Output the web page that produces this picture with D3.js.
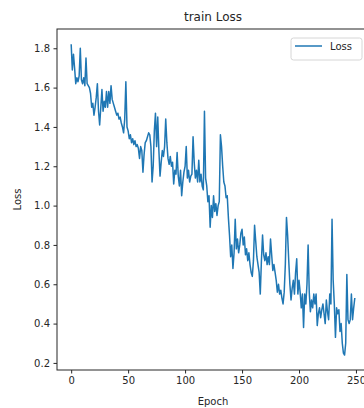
<!DOCTYPE html>
<html>
<head>
<meta charset="utf-8">
<script src="https://cdn.jsdelivr.net/npm/d3@7"></script>
<style>
  body { margin: 0; background: #fff; }
  text { font-family: "DejaVu Sans", sans-serif; fill: #262626; }
  .axis path, .axis line { stroke: #262626; }
</style>
</head>
<body>
<div id="vis"></div>
<script>
// loss per epoch
var lossValues = [
  1.82, 1.69, 1.77, 1.70, 1.62, 1.65, 1.63, 1.66, 1.80, 1.64,
  1.62, 1.65, 1.61, 1.75, 1.62, 1.61, 1.60, 1.57, 1.50, 1.52,
  1.46, 1.50, 1.55, 1.62, 1.48, 1.41, 1.50, 1.59, 1.48, 1.53,
  1.50, 1.58, 1.50, 1.58, 1.52, 1.61, 1.54, 1.52, 1.50, 1.48,
  1.46, 1.47, 1.44, 1.45, 1.42, 1.40, 1.37, 1.44, 1.63, 1.40,
  1.38, 1.34, 1.36, 1.32, 1.34, 1.31, 1.33, 1.30, 1.31, 1.29,
  1.24, 1.30, 1.28, 1.17, 1.26, 1.32, 1.33, 1.35, 1.37, 1.36,
  1.30, 1.12, 1.20, 1.38, 1.47, 1.30, 1.45, 1.28, 1.15, 1.22,
  1.28, 1.25, 1.30, 1.44, 1.32, 1.24, 1.21, 1.25, 1.20, 1.22,
  1.11, 1.18, 1.16, 1.27, 1.15, 1.10, 1.18, 1.05, 1.12, 1.17,
  1.20, 1.30, 1.14, 1.18, 1.12, 1.15, 1.16, 1.35, 1.22, 1.14,
  1.18, 1.12, 1.23, 1.12, 1.16, 1.10, 1.08, 1.48, 1.14, 1.10,
  1.02, 1.05, 0.89, 1.00, 0.94, 1.05, 0.97, 1.01, 0.95, 1.00,
  1.02, 1.36, 1.30, 1.20, 1.12, 1.10, 1.04, 1.05, 0.94, 0.85,
  0.74, 0.80, 0.68, 0.76, 0.93, 0.78, 0.83, 0.76, 0.80, 0.86,
  0.88, 0.80, 0.84, 0.75, 0.78, 0.72, 0.76, 0.70, 0.66, 0.64,
  0.72, 0.90, 0.82, 0.74, 0.70, 0.66, 0.55, 0.72, 0.85, 0.75,
  0.72, 0.76, 0.70, 0.74, 0.70, 0.83, 0.75, 0.67, 0.70, 0.66,
  0.62, 0.56, 0.60, 0.55, 0.57, 0.53, 0.50, 0.56, 0.70, 0.94,
  0.85, 0.72, 0.60, 0.52, 0.58, 0.62, 0.55, 0.66, 0.73, 0.55,
  0.62, 0.56, 0.48, 0.55, 0.38, 0.55, 0.50, 0.60, 0.80, 0.56,
  0.46, 0.52, 0.48, 0.55, 0.50, 0.55, 0.39, 0.45, 0.48, 0.43,
  0.47, 0.50, 0.45, 0.40, 0.52, 0.46, 0.42, 0.55, 0.50, 0.93,
  0.62, 0.50, 0.33, 0.48, 0.45, 0.47, 0.36, 0.40, 0.30, 0.25,
  0.24, 0.30, 0.65, 0.42, 0.40, 0.42, 0.55, 0.42, 0.48, 0.53
];
var epochs = lossValues.map(function(d, i) { return i; });

var xTicks = [0, 50, 100, 150, 200, 250];
var yTicks = [0.2, 0.4, 0.6, 0.8, 1.0, 1.2, 1.4, 1.6, 1.8];

var width = 364;
var height = 408;
// axes box; the right edge runs past the window like the reference
var margin = { top: 29, left: 57, bottom: 38, right: -5 };

var svg = d3.select('#vis').append('svg')
  .attr('width', width)
  .attr('height', height);

var x0 = d3.min(epochs), x1 = d3.max(epochs);
var pad = (x1 - x0) * 0.05;
var xScale = d3.scaleLinear()
  .domain([x0 - pad, x1 + pad])
  .range([margin.left, width - margin.right]);

var yScale = d3.scaleLinear()
  .domain([0.164, 1.898])
  .range([height - margin.bottom, margin.top]);

// axes
var xAxis = d3.axisBottom(xScale)
  .tickValues(xTicks)
  .tickSizeInner(3.5).tickSizeOuter(0).tickPadding(3.5)
  .tickFormat(d3.format('d'));

var yAxis = d3.axisLeft(yScale)
  .tickValues(yTicks)
  .tickSizeInner(3.5).tickSizeOuter(0).tickPadding(3.5)
  .tickFormat(d3.format('.1f'));

svg.append('g')
  .attr('class', 'x axis')
  .attr('transform', 'translate(0,' + (height - margin.bottom) + ')')
  .call(xAxis)
  .call(function(g) { g.select('.domain').remove(); })
  .selectAll('text').style('font-size', '10px').attr('fill', '#262626');

svg.append('g')
  .attr('class', 'y axis')
  .attr('transform', 'translate(' + margin.left + ',0)')
  .call(yAxis)
  .call(function(g) { g.select('.domain').remove(); })
  .selectAll('text').style('font-size', '10px').attr('fill', '#262626');

// spines
svg.append('rect')
  .attr('x', margin.left)
  .attr('y', margin.top)
  .attr('width', width - margin.right - margin.left)
  .attr('height', height - margin.bottom - margin.top)
  .attr('fill', 'none')
  .attr('stroke', '#262626')
  .attr('stroke-width', 1);

// the loss line
var line = d3.line()
  .x(function(d, i) { return xScale(epochs[i]); })
  .y(function(d) { return yScale(d); });

svg.append('path')
  .datum(lossValues)
  .attr('fill', 'none')
  .attr('stroke', '#1f77b4')
  .attr('stroke-width', 1.5)
  .attr('stroke-linejoin', 'round')
  .attr('d', line);

// titles
svg.append('text')
  .attr('x', (margin.left + width - margin.right) / 2)
  .attr('y', 21)
  .attr('text-anchor', 'middle')
  .style('font-size', '12px')
  .text('train Loss');

svg.append('text')
  .attr('x', (margin.left + width - margin.right) / 2)
  .attr('y', 405)
  .attr('text-anchor', 'middle')
  .style('font-size', '10px')
  .text('Epoch');

svg.append('text')
  .attr('transform', 'translate(21,' + ((margin.top + height - margin.bottom) / 2) + ') rotate(-90)')
  .attr('text-anchor', 'middle')
  .style('font-size', '10px')
  .text('Loss');

// legend
var legend = svg.append('g').attr('transform', 'translate(291,38)');
legend.append('rect')
  .attr('width', 71).attr('height', 22)
  .attr('rx', 2.5)
  .attr('fill', '#fff').attr('fill-opacity', 0.8)
  .attr('stroke', '#d6d6d6');
legend.append('line')
  .attr('x1', 4).attr('x2', 31)
  .attr('y1', 8).attr('y2', 8)
  .attr('stroke', '#1f77b4').attr('stroke-width', 1.5);
legend.append('text')
  .attr('x', 39).attr('y', 12)
  .style('font-size', '10px')
  .text('Loss');
</script>
</body>
</html>
